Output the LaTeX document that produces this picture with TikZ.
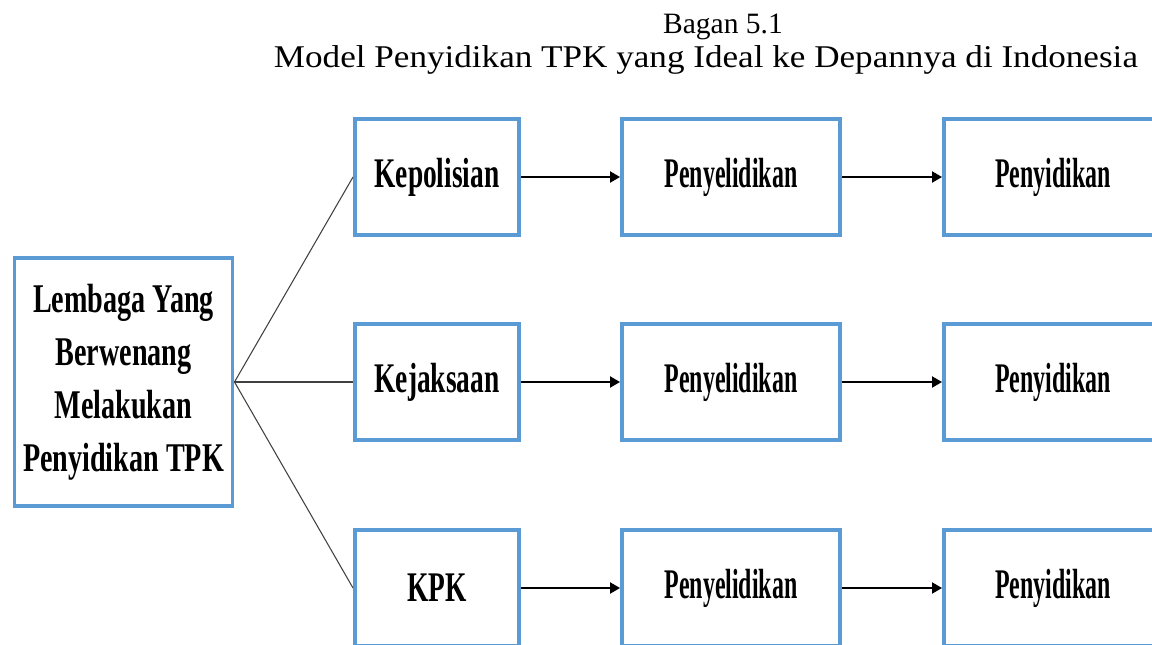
\documentclass[tikz,border=0pt]{standalone}
\usepackage{fontspec}
\setmainfont{Liberation Serif}
\newfontfamily\judulfont[FakeStretch=1.11]{Liberation Serif}
\newfontfamily\tebalI[FakeStretch=0.69]{Liberation Serif}
\newfontfamily\tebalA[FakeStretch=0.65]{Liberation Serif}
\newfontfamily\tebalB[FakeStretch=0.567]{Liberation Serif}
\usetikzlibrary{arrows.meta,positioning}
\definecolor{birubingkai}{HTML}{5B9BD5}
\tikzset{
  induk/.style={draw=birubingkai, line width=2.8pt, minimum width=5.45cm, minimum height=6.2cm, inner sep=0pt, align=center, font=\tebalI\bfseries\fontsize{29}{37.6}\selectfont, fill=white},
  lembaga/.style={draw=birubingkai, line width=2.8pt, minimum width=4.1cm, minimum height=2.9cm, inner sep=0pt, font=\tebalA\bfseries\fontsize{30}{34}\selectfont, fill=white},
  tahap/.style={draw=birubingkai, line width=2.8pt, minimum width=5.45cm, minimum height=2.9cm, inner sep=0pt, font=\tebalB\bfseries\fontsize{30}{34}\selectfont, fill=white},
  flow/.style={-{Triangle[length=2.5mm,width=2.8mm]}, line width=1.1pt},
  cabang/.style={black!75, line width=0.75pt}
}
\begin{document}
\begin{tikzpicture}[x=0.025cm,y=-0.025cm]
  \useasboundingbox (0,0) rectangle (1152,645);
  \clip (0,0) rectangle (1152,645);
  % judul
  \node[font=\fontsize{21}{24}\selectfont, anchor=base, inner sep=0pt] (judul) at (723,33) {Bagan 5.1};
  \node[font=\judulfont\fontsize{22.5}{26}\selectfont, anchor=base, inner sep=0pt] (subjudul) at (706,67) {Model Penyidikan TPK yang Ideal ke Depannya di Indonesia};
  % kotak induk
  \node[induk] (induk) at (123.5,382) {Lembaga Yang\\Berwenang\\Melakukan\\Penyidikan TPK};
  % tiga lembaga dan tahapannya
  \foreach \nama/\lbl/\y in {pol/Kepolisian/177, jak/Kejaksaan/382, kpk/KPK/588} {
    \node[lembaga] (\nama) at (437,\y) {\lbl};
    \node[tahap] (\nama-lidik) at (731,\y) {Penyelidikan};
    \node[tahap] (\nama-sidik) at (1053,\y) {Penyidikan};
    \draw[flow] (\nama) -- (\nama-lidik);
    \draw[flow] (\nama-lidik) -- (\nama-sidik);
    \draw[cabang] (induk.east) -- (\nama.west);
  }
\end{tikzpicture}
\end{document}
